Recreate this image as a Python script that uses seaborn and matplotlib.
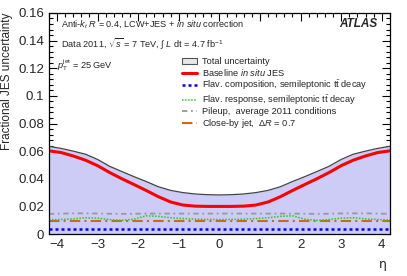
"""
Fractional JES uncertainty vs eta (ATLAS style), redrawn with seaborn.
"""
import matplotlib
matplotlib.use("Agg")
import matplotlib.pyplot as plt
from matplotlib.patches import Patch
from matplotlib.lines import Line2D
from matplotlib.ticker import MultipleLocator
import pandas as pd
import seaborn as sns

# eta grid
eta = [-4.2, -3.9, -3.6, -3.3, -3.0, -2.7, -2.4, -2.1, -1.8, -1.5, -1.2, -0.9, -0.6, -0.3, 0.0,
       0.3, 0.6, 0.9, 1.2, 1.5, 1.8, 2.1, 2.4, 2.7, 3.0, 3.3, 3.6, 3.9, 4.2]

total = [0.0635, 0.0620, 0.0600, 0.0578, 0.0540, 0.0490, 0.0452, 0.0415, 0.0380, 0.0342,
         0.0316, 0.0300, 0.0290, 0.0285, 0.0283,
         0.0285, 0.0290, 0.0300, 0.0316, 0.0342, 0.0380, 0.0415, 0.0452, 0.0490, 0.0540,
         0.0578, 0.0600, 0.0620, 0.0635]
baseline = [0.0602, 0.0590, 0.0565, 0.0535, 0.0495, 0.0445, 0.0400, 0.0358, 0.0315, 0.0270,
            0.0232, 0.0210, 0.0202, 0.0200, 0.0200,
            0.0200, 0.0202, 0.0210, 0.0232, 0.0270, 0.0315, 0.0358, 0.0400, 0.0445, 0.0495,
            0.0535, 0.0565, 0.0590, 0.0602]
flav_comp = [0.0033] * 29
flav_resp = [0.0103, 0.0105, 0.0110, 0.0118, 0.0115, 0.0105, 0.0099, 0.0108, 0.0132, 0.0128,
             0.0118, 0.0112, 0.0108, 0.0106, 0.0105,
             0.0106, 0.0108, 0.0112, 0.0118, 0.0128, 0.0132, 0.0108, 0.0099, 0.0105, 0.0115,
             0.0118, 0.0110, 0.0105, 0.0103]
pileup = [0.0146, 0.0148, 0.0150, 0.0150, 0.0149, 0.0147, 0.0146, 0.0147, 0.0148, 0.0148,
          0.0148, 0.0148, 0.0148, 0.0148, 0.0148,
          0.0148, 0.0148, 0.0148, 0.0148, 0.0148, 0.0148, 0.0147, 0.0146, 0.0147, 0.0149,
          0.0150, 0.0150, 0.0148, 0.0146]
closeby = [0.0095] * 29

labels = ["Total uncertainty",
          "Baseline $\\it{in\\ situ}$ JES",
          "Flav. composition, semileptonic t$\\bar{\\rm t}$ decay",
          "Flav. response, semileptonic t$\\bar{\\rm t}$ decay",
          "Pileup,  average 2011 conditions",
          "Close-by jet,  $\\Delta R$ = 0.7"]

df = pd.DataFrame({"eta": eta, "total": total, "baseline": baseline,
                   "flav_comp": flav_comp, "flav_resp": flav_resp,
                   "pileup": pileup, "closeby": closeby})

sns.set_theme(style="ticks")
plt.rcParams["font.family"] = ["Liberation Sans", "DejaVu Sans"]
plt.rcParams["mathtext.fontset"] = "custom"
plt.rcParams["mathtext.rm"] = "Liberation Sans"
plt.rcParams["mathtext.it"] = "Liberation Sans:italic"
plt.rcParams["mathtext.bf"] = "Liberation Sans:bold"

fig = plt.figure(figsize=(4.07, 2.76), dpi=100)
ax = fig.add_axes([0.120, 0.152, 0.838, 0.801])

ax.fill_between(df["eta"], 0, df["total"], color="#ccccf7", lw=0)
sns.lineplot(data=df, x="eta", y="total", ax=ax, color="#444444", lw=0.9)
sns.lineplot(data=df, x="eta", y="pileup", ax=ax, color="#999999", lw=1.3,
             linestyle=(0, (3, 2, 1, 2)))
sns.lineplot(data=df, x="eta", y="closeby", ax=ax, color="#cc6a1a", lw=1.5,
             linestyle=(0, (5, 2, 1, 2)))
sns.lineplot(data=df, x="eta", y="flav_resp", ax=ax, color="#22cc22", lw=1.1,
             linestyle=(0, (1, 1)))
sns.lineplot(data=df, x="eta", y="flav_comp", ax=ax, color="#0000ff", lw=1.8,
             linestyle=(0, (1.2, 1.2)))
sns.lineplot(data=df, x="eta", y="baseline", ax=ax, color="#ff0000", lw=2.2)

ax.set_xlim(-4.2, 4.2)
ax.set_ylim(0, 0.16)
ax.xaxis.set_major_locator(MultipleLocator(1))
ax.xaxis.set_minor_locator(MultipleLocator(0.2))
ax.yaxis.set_major_locator(MultipleLocator(0.02))
ax.yaxis.set_minor_locator(MultipleLocator(0.004))
ax.set_yticks([0, 0.02, 0.04, 0.06, 0.08, 0.1, 0.12, 0.14, 0.16])
ax.set_yticklabels(["0", "0.02", "0.04", "0.06", "0.08", "0.1", "0.12", "0.14", "0.16"])
ax.tick_params(which="both", direction="in", top=True, right=True, labelsize=9.5,
               color="black", width=0.8)
ax.tick_params(which="major", length=6)
ax.tick_params(which="minor", length=3)
for s in ax.spines.values():
    s.set_linewidth(0.9)
    s.set_color("black")

ax.set_ylabel("Fractional JES uncertainty", fontsize=8.5, loc="top")
ax.set_xlabel("η", fontsize=9, loc="right", va="center", family=["DejaVu Sans"])
ax.xaxis.set_label_coords(0.99, -0.14)

ax.text(0.035, 0.95, "Anti-$k_{t}$ $R$ = 0.4, LCW+JES + $in$ $situ$ correction",
        transform=ax.transAxes, fontsize=6.6, va="center")
ax.text(0.035, 0.86, "Data 2011, $\\sqrt{s}$ = 7 TeV, $\\int$ $L$ dt = 4.7 fb$^{-1}$",
        transform=ax.transAxes, fontsize=6.6, va="center")
ax.text(0.025, 0.765, "$p_{\\rm T}^{\\rm jet}$ = 25 GeV",
        transform=ax.transAxes, fontsize=6.6, va="center")
ax.text(0.965, 0.95, "ATLAS", transform=ax.transAxes, fontsize=8.5,
        fontweight="bold", fontstyle="italic", ha="right", va="center")

handles = [Patch(facecolor="#e8e8e8", edgecolor="#555555", lw=0.8),
           Line2D([], [], color="#ff0000", lw=2.2),
           Line2D([], [], color="#0000ff", lw=1.8, linestyle=(0, (1.2, 1.2))),
           Line2D([], [], color="#22cc22", lw=1.1, linestyle=(0, (1, 1))),
           Line2D([], [], color="#999999", lw=1.3, linestyle=(0, (3, 2, 1, 2))),
           Line2D([], [], color="#cc6a1a", lw=1.5, linestyle=(0, (5, 2, 1, 2)))]
fig.legend(handles, labels, loc="upper left", bbox_to_anchor=(182 / 407, 1 - 57 / 276),
           frameon=False, fontsize=6.7, handlelength=1.6, handleheight=0.6,
           handletextpad=0.6, labelspacing=0.08, borderpad=0, borderaxespad=0)

fig.savefig("out.png", dpi=100)
plt.close(fig)
